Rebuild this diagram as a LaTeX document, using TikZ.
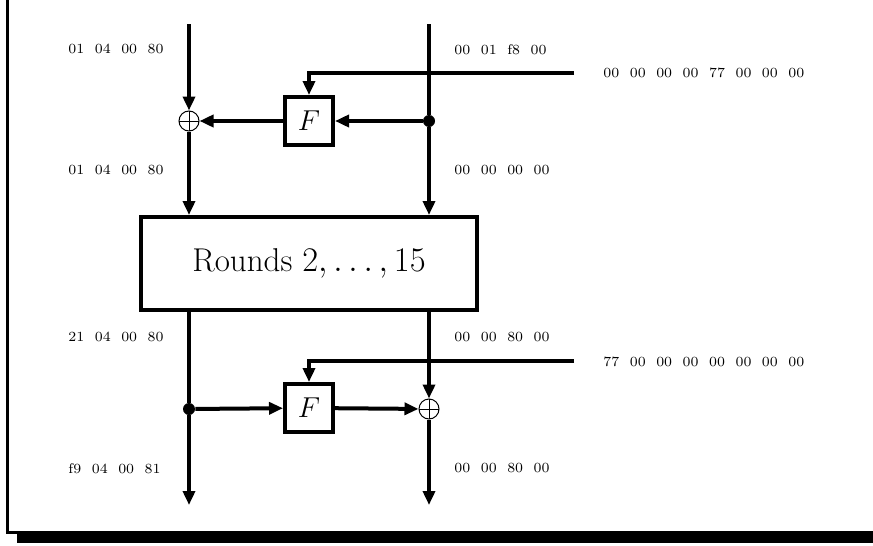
\documentclass[tikz,border=0pt]{standalone}
\usetikzlibrary{arrows.meta}
\newcommand{\bgap}{\hspace{0.75em}}
\begin{document}
\begin{tikzpicture}[x=0.5pt, y=-0.5pt,
  wire/.style={line width=2pt},
  flow/.style={wire, -{Triangle[length=7pt, width=6pt]}},
  fbox/.style={draw, line width=2pt, minimum size=24pt, inner sep=0, font=\Large},
  xor/.style={draw, circle, line width=0.5pt, minimum size=10pt, inner sep=0,
    path picture={\draw[line width=0.5pt] (path picture bounding box.north) -- (path picture bounding box.south)
      (path picture bounding box.west) -- (path picture bounding box.east);}},
  junction/.style={fill, circle, minimum size=6pt, inner sep=0},
  bytes/.style={font=\scriptsize, inner sep=0, anchor=west}]
  \useasboundingbox (0,0) rectangle (873,546);
  % frame with shadow
  \fill (17,531) rectangle (890,543);
  \draw[line width=1.5pt] (7.5,-10) -- (7.5,532) -- (890,532);

  \node (xorT) [xor] at (189,121) {};
  \node (fT) [fbox] at (309,121) {$F$};
  \node (dotT) [junction] at (429,121) {};
  \node (rounds) [draw, line width=2pt, minimum width=168pt, minimum height=46.5pt, font=\fontsize{16.5}{19}\selectfont] at (309,263.5) {Rounds $2,\ldots,15$};
  \node (dotB) [junction] at (189,409) {};
  \node (fB) [fbox] at (309,408) {$F$};
  \node (xorB) [xor] at (429,409) {};
  \coordinate (inL) at (189,24);
  \coordinate (inR) at (429,24);
  \coordinate (kT) at (574,73);
  \coordinate (kB) at (574,361);
  \coordinate (outL) at (189,505);
  \coordinate (outR) at (429,505);

  % first round
  \draw[flow] (inL) -- (xorT);
  \draw[flow] (xorT) -- (xorT |- rounds.north);
  \draw[wire] (inR) -- (dotT);
  \draw[flow] (dotT) -- (dotT |- rounds.north);
  \draw[flow] (dotT) -- (fT);
  \draw[flow] (fT) -- (xorT);
  \draw[flow] (kT) -| (fT);

  % last round
  \draw[wire] (dotB |- rounds.south) -- (dotB);
  \draw[flow] (dotB) -- (outL);
  \draw[flow] (dotB) -- (fB);
  \draw[flow] (fB) -- (xorB);
  \draw[flow] (xorB |- rounds.south) -- (xorB);
  \draw[flow] (xorB) -- (outR);
  \draw[flow] (kB) -| (fB);

  % values
  \node (vL0) [bytes] at (68,49) {01\bgap 04\bgap 00\bgap 80};
  \node (vR0) [bytes] at (454,50) {00\bgap 01\bgap f8\bgap 00};
  \node (vK1) [bytes] at (603,73) {00\bgap 00\bgap 00\bgap 00\bgap 77\bgap 00\bgap 00\bgap 00};
  \node (vL1) [bytes] at (68,170) {01\bgap 04\bgap 00\bgap 80};
  \node (vR1) [bytes] at (454,170) {00\bgap 00\bgap 00\bgap 00};
  \node (vL15) [bytes] at (68,337) {21\bgap 04\bgap 00\bgap 80};
  \node (vR15) [bytes] at (454,337) {00\bgap 00\bgap 80\bgap 00};
  \node (vK16) [bytes] at (603,362) {77\bgap 00\bgap 00\bgap 00\bgap 00\bgap 00\bgap 00\bgap 00};
  \node (vL16) [bytes] at (68,469) {f9\bgap 04\bgap 00\bgap 81};
  \node (vR16) [bytes] at (454,468) {00\bgap 00\bgap 80\bgap 00};
\end{tikzpicture}
\end{document}
